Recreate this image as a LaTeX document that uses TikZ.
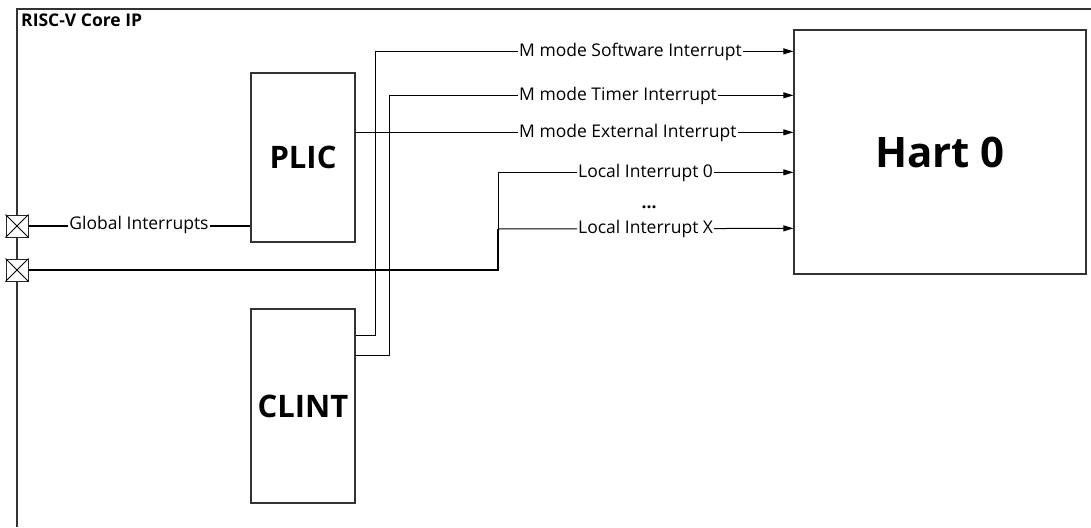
\documentclass[tikz,border=0pt]{standalone}
\usepackage{fontspec}
\setmainfont{Open Sans}
\usetikzlibrary{arrows.meta}
\begin{document}
\begin{tikzpicture}[x=1pt,y=-1pt,
  box/.style={draw=black!80,line width=1.3pt,fill=white,inner sep=0pt,font=\bfseries\fontsize{31}{34}\selectfont},
  port/.style={draw=black!85,line width=1pt,fill=white,minimum size=22pt,inner sep=0pt},
  wire/.style={line width=1pt,draw=black},
  bus/.style={line width=2.2pt,draw=black},
  arr/.style={wire,-{Triangle[length=10pt,width=6pt]}},
  lbl/.style={fill=white,inner sep=1pt,font=\fontsize{17.5}{20}\selectfont},
]
\useasboundingbox (0,0) rectangle (1091,527);
% frame
\draw[line width=1.5pt,black!80] (1091,9) -- (17,9) -- (17,527);
\node[anchor=north west,inner sep=0pt,font=\bfseries\fontsize{17.5}{20}\selectfont] (title) at (21,14) {RISC-V Core IP};
% blocks
\node[box,minimum width=104pt,minimum height=169pt] (plic) at (303,157.5) {PLIC};
\node[box,minimum width=104pt,minimum height=194pt] (clint) at (303,406) {CLINT};
\node[box,minimum width=292pt,minimum height=244pt,font=\bfseries\fontsize{42}{46}\selectfont] (hart) at (940,152) {Hart 0};
% junction coordinates
\coordinate (jx) at (498,229);
% wires
\draw[arr] ([yshift=-27pt]clint.north east) -- ++(20,0) |- ([yshift=-22pt]hart.north west);
\draw[arr] ([yshift=-47pt]clint.north east) -- ++(34,0) |- ([yshift=-66pt]hart.north west);
\draw[arr] ([yshift=-60pt]plic.north east) -- ([yshift=-103pt]hart.north west);
\draw[arr] (jx) |- ([yshift=-143pt]hart.north west);
\draw[arr] (jx) -- ([yshift=-199pt]hart.north west);
% ports
\node[port] (p1) at (17,226) {};
\node[port] (p2) at (17,270) {};
\foreach \p in {p1,p2}{
  \draw[line width=1pt] (\p.north west) -- (\p.south east) (\p.north east) -- (\p.south west);
}
\draw[bus] (p1.east) -- (p1.east -| plic.west);
\draw[bus] (p2.east) -| (jx);
% labels
\node[lbl] (lg) at (139,225) {Global Interrupts};
\node[lbl,anchor=west] (l1) at (518,52) {M mode Software Interrupt};
\node[lbl,anchor=west] (l2) at (518,96) {M mode Timer Interrupt};
\node[lbl,anchor=west] (l3) at (518,133) {M mode External Interrupt};
\node[lbl,anchor=west] (l4) at (577,173) {Local Interrupt 0};
\node[lbl,font=\bfseries\fontsize{17.5}{20}\selectfont] (dots) at (649,207) {...};
\node[lbl,anchor=west] (l5) at (577,229) {Local Interrupt X};
\end{tikzpicture}
\end{document}
